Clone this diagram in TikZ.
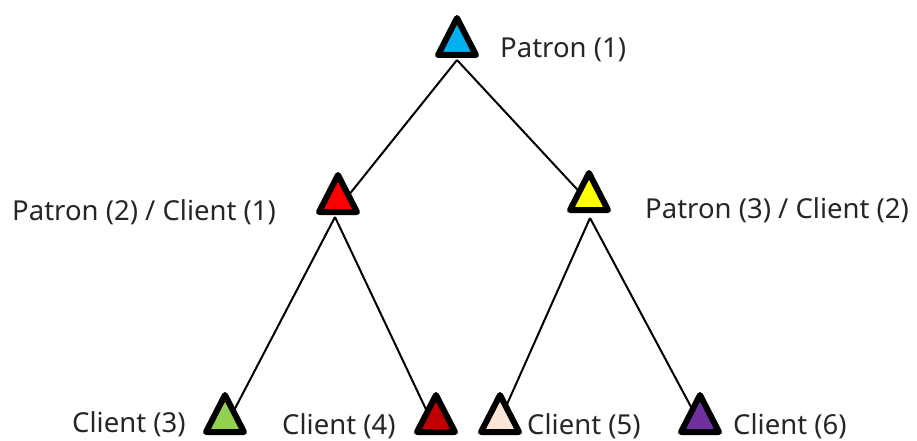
\documentclass[tikz,border=0pt]{standalone}
\usepackage{fontspec}
\setmainfont{Noto Sans}
\definecolor{cblue}{RGB}{0,176,240}
\definecolor{cred}{RGB}{255,0,0}
\definecolor{cyellow}{RGB}{255,255,0}
\definecolor{cgreen}{RGB}{146,208,80}
\definecolor{cdarkred}{RGB}{192,0,0}
\definecolor{ccream}{RGB}{251,229,214}
\definecolor{cpurple}{RGB}{112,48,160}
\newcommand\drawtri[3]{% cx, apex y (outer), fill
  \filldraw[tri, fill=#3] (#1,#2+3) -- ({#1-19},#2+40) -- ({#1+19},#2+40) -- cycle;}
\tikzset{
  tri/.style={draw=black, line width=6pt, line join=round},
  link/.style={draw=black, line width=2pt},
  lbl/.style={anchor=base west, inner sep=0pt, font=\fontsize{27.5}{33}\selectfont, text=black!85}
}
\begin{document}
\begin{tikzpicture}[x=1pt,y=-1pt]
\useasboundingbox (0,0) rectangle (917,441);
% connector end points
\coordinate (tb) at (457,60);
\coordinate (re) at (344,201);
\coordinate (ye) at (587,200);
\coordinate (ro) at (335,217);
\coordinate (ge) at (229,420);
\coordinate (de) at (431,420);
\coordinate (yo) at (590,218);
\coordinate (ce) at (500,420);
\coordinate (pe) at (698,420);
% connectors
\draw[link] (tb) -- (re);
\draw[link] (tb) -- (ye);
\draw[link] (ro) -- (ge);
\draw[link] (ro) -- (de);
\draw[link] (yo) -- (ce);
\draw[link] (yo) -- (pe);
% triangles
\drawtri{457}{15}{cblue}
\drawtri{338}{172}{cred}
\drawtri{589}{170}{cyellow}
\drawtri{225}{392}{cgreen}
\drawtri{436}{392}{cdarkred}
\drawtri{500}{392}{ccream}
\drawtri{700}{392}{cpurple}
% labels
\node[lbl] (l1) at (500,58) {Patron (1)};
\node[lbl] (l2) at (12,220) {Patron (2) / Client (1)};
\node[lbl] (l3) at (645,218) {Patron (3) / Client (2)};
\node[lbl] (l4) at (72,432) {Client (3)};
\node[lbl] (l5) at (282,434.5) {Client (4)};
\node[lbl] (l6) at (527,434.5) {Client (5)};
\node[lbl] (l7) at (733,434.5) {Client (6)};
\end{tikzpicture}
\end{document}
